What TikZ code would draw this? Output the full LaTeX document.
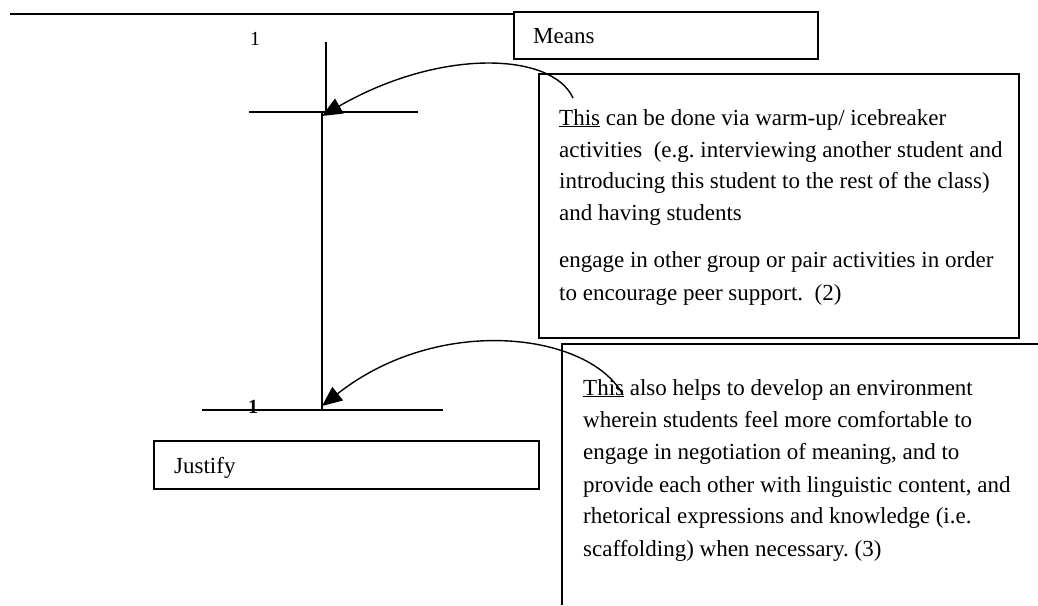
\documentclass[tikz,border=0pt]{standalone}
\usepackage{fontspec}
\setmainfont{Liberation Serif}
\usetikzlibrary{arrows.meta}
\frenchspacing
\begin{document}
\begin{tikzpicture}[x=1pt,y=-1pt,
  rule/.style={line width=1.5pt},
  frame/.style={draw, line width=1.5pt, inner sep=0pt, anchor=north west},
  txt/.style={anchor=base west, inner sep=0pt, font=\fontsize{23}{32}\selectfont},
  num/.style={anchor=base, inner sep=0pt, font=\fontsize{20}{22}\selectfont},
  link/.style={line width=1.4pt, -{Triangle[length=20pt,width=17pt]}}]
\useasboundingbox (0,0) rectangle (1038,605);

% labelled frames
\node[frame, minimum width=304pt, minimum height=47pt] (means) at (513,11) {};
\node[frame, minimum width=385pt, minimum height=48pt] (justify) at (153,440) {};
\node[frame, minimum width=480pt, minimum height=264pt] (detail) at (538,73) {};
\node[txt] (meansT) at (533,43) {Means};
\node[txt] (justifyT) at (174,473) {Justify};

% open frame, running off the page
\coordinate (o1) at (1038,344);
\coordinate (o2) at (562,344);
\coordinate (o3) at (562,605);
\draw[rule] (o1) -- (o2) -- (o3);

% rule across the top
\coordinate (t0) at (10,14);
\draw[rule] (t0) -- (means.north west |- t0);

% the two crosses and the stem between them
\coordinate (u0) at (326,42);
\coordinate (u1) at (326,112);
\coordinate (uL) at (249,112);
\coordinate (uR) at (418,112);
\coordinate (s0) at (322,112);
\coordinate (s1) at (322,410);
\coordinate (lL) at (202,410);
\coordinate (lR) at (443,410);
\draw[rule] (u0) -- (u1);
\draw[rule] (uL) -- (uR);
\draw[rule] (s0) -- (s1);
\draw[rule] (lL) -- (lR);

\node[num] (one) at (255,45) {1};
\node[num, font=\fontsize{20}{22}\selectfont\bfseries] (oneb) at (253,413) {1};

% text of the upper frame
\node[txt] (p1) at (559,125) {\underline{This} can be done via warm-up/ icebreaker};
\node[txt] (p2) at (559,157) {activities\ \ (e.g. interviewing another student and};
\node[txt] (p3) at (559,188) {introducing this student to the rest of the class)};
\node[txt] (p4) at (559,220) {and having students};
\node[txt] (p5) at (559,267) {engage in other group or pair activities in order};
\node[txt] (p6) at (559,300) {to encourage peer support.\ \ (2)};

% text of the lower frame
\node[txt] (q1) at (583,395) {\underline{This} also helps to develop an environment};
\node[txt] (q2) at (583,427) {wherein students feel more comfortable to};
\node[txt] (q3) at (583,459) {engage in negotiation of meaning, and to};
\node[txt] (q4) at (583,492) {provide each other with linguistic content, and};
\node[txt] (q5) at (583,523) {rhetorical expressions and knowledge (i.e.};
\node[txt] (q6) at (583,556) {scaffolding) when necessary. (3)};

% curved pointers from each "This" to the crosses
\coordinate (a1) at (573,98);
\coordinate (h1) at (322,116);
\coordinate (a2) at (623,395);
\coordinate (h2) at (322,406);
\draw[link] (a1) .. controls (552,52) and (440,48) .. (h1);
\draw[link] (a2) .. controls (590,333) and (440,313) .. (h2);
\end{tikzpicture}
\end{document}
